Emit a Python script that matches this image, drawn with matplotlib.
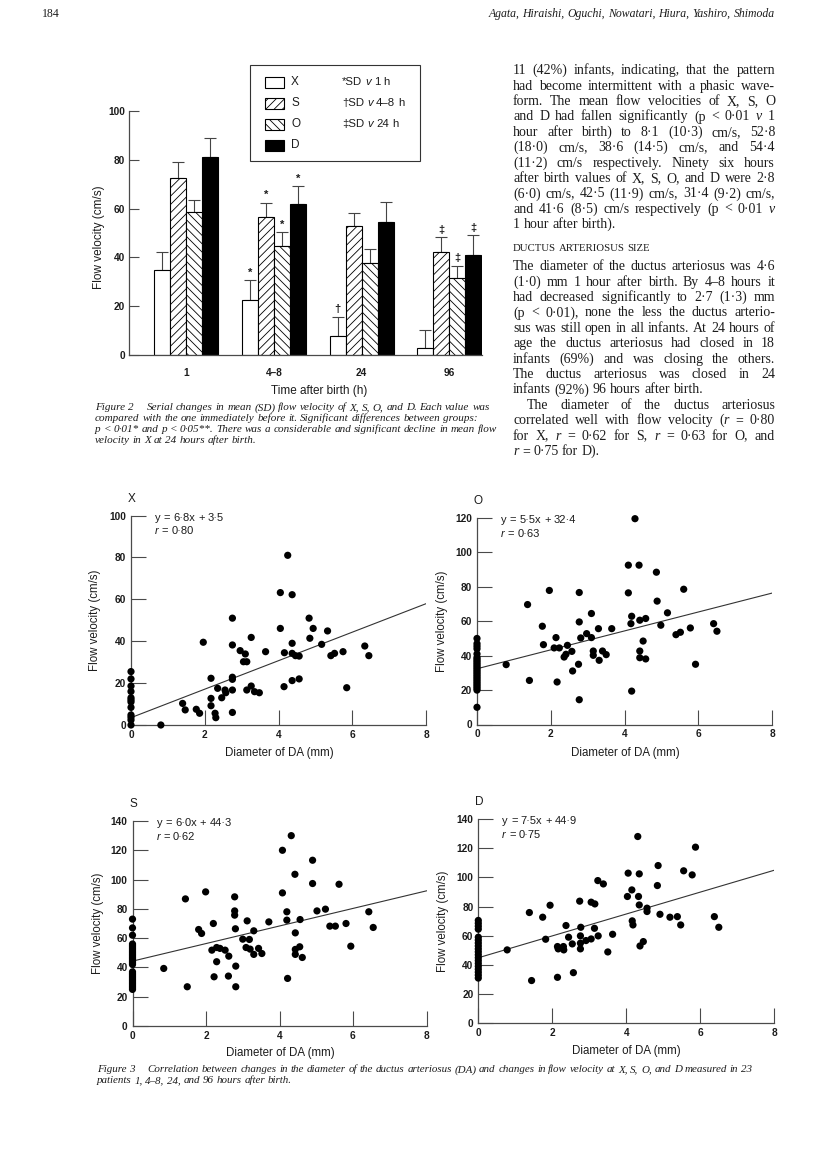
import matplotlib
matplotlib.use("Agg")
import matplotlib.pyplot as plt
import numpy as np
from matplotlib.patches import Rectangle

plt.rcParams['hatch.linewidth'] = 0.6
SANS = ['Liberation Sans', 'DejaVu Sans']
SERIF = ['Liberation Serif', 'DejaVu Serif']
plt.rcParams['font.family'] = SANS

W, H = 816, 1174
INK = '#1c1c1c'
AXC = '#4a4a4a'

# ---------------- Figure 2 data ----------------
times = ['1', '4–8', '24', '96']
series = ['X', 'S', 'O', 'D']
mean_X = [35.0, 22.7, 7.9, 3.0]
mean_S = [72.5, 56.5, 52.7, 42.2]
mean_O = [58.5, 44.5, 37.8, 31.4]
mean_D = [81.0, 61.8, 54.7, 41.0]
sd_X = [7.2, 7.9, 7.7, 7.2]
sd_S = [6.4, 5.9, 5.5, 6.0]
sd_O = [5.0, 5.8, 5.7, 5.2]
sd_D = [7.8, 7.4, 7.9, 8.0]
sig_time = [1, 1, 1, 1, 2, 3, 3, 3]
sig_series = [0, 1, 2, 3, 0, 1, 2, 3]
sig_symbol = ['*', '*', '*', '*', '†', '‡', '‡', '‡']
legend_notes = ['*SD _v_ 1 h', '†SD _v_ 4–8 h', '‡SD _v_ 24 h']

# ---------------- Figure 3 data ----------------
X_zero_y = [25.5, 22, 18.6, 16, 13, 12, 11, 8.4, 4.8, 3.7, 2.4, 0]
X_pts = [(0.81, 0.0), (1.40, 10.3), (1.47, 7.2), (1.77, 7.5), (1.86, 5.6), (1.96, 39.5),
         (2.17, 22.3), (2.17, 12.7), (2.17, 9.2), (2.28, 5.6), (2.30, 3.5), (2.35, 17.5),
         (2.46, 13.0), (2.55, 16.7), (2.57, 15.4), (2.75, 51.0), (2.75, 38.2), (2.75, 22.8),
         (2.75, 21.8), (2.75, 16.7), (2.75, 6.0), (2.96, 35.5), (3.05, 30.2), (3.10, 33.9),
         (3.14, 30.2), (3.14, 16.7), (3.26, 41.8), (3.26, 18.6), (3.35, 15.9), (3.48, 15.4),
         (3.65, 35.0), (4.05, 63.2), (4.05, 46.1), (4.15, 18.3), (4.16, 34.5), (4.25, 81.0),
         (4.37, 62.2), (4.37, 39.0), (4.37, 34.2), (4.37, 21.2), (4.46, 33.1), (4.56, 32.9),
         (4.56, 22.0), (4.83, 51.0), (4.85, 41.4), (4.94, 46.1), (5.17, 38.5), (5.33, 44.9),
         (5.42, 33.1), (5.52, 34.2), (5.75, 35.0), (5.85, 17.8), (6.34, 37.7), (6.45, 33.1)]

O_zero_y = [50, 47, 45.5, 44, 41, 39, 38, 37, 36, 35, 34, 33, 32, 31, 30, 29, 28, 27, 26,
            25, 24, 23, 22, 21, 20, 10]
O_pts = [(0.79, 34.8), (1.37, 69.7), (1.42, 25.6), (1.77, 57.1), (1.80, 46.4), (1.96, 77.9),
         (2.09, 44.5), (2.14, 50.5), (2.17, 24.7), (2.23, 44.5), (2.36, 39.2), (2.41, 40.8),
         (2.45, 46.0), (2.57, 42.5), (2.59, 31.1), (2.75, 35.0), (2.77, 76.7), (2.77, 59.6),
         (2.77, 14.4), (2.81, 50.3), (2.97, 52.8), (3.10, 64.5), (3.10, 50.5), (3.15, 42.7),
         (3.15, 40.2), (3.29, 55.7), (3.31, 37.3), (3.40, 42.7), (3.50, 40.6), (3.65, 55.7),
         (4.10, 92.6), (4.10, 76.5), (4.17, 58.6), (4.19, 62.9), (4.19, 19.4), (4.28, 119.6),
         (4.39, 92.6), (4.41, 60.6), (4.41, 42.7), (4.41, 38.8), (4.50, 48.5), (4.57, 61.6),
         (4.57, 38.1), (4.86, 88.5), (4.88, 71.7), (4.98, 57.7), (5.16, 64.9), (5.39, 52.2),
         (5.51, 53.6), (5.60, 78.6), (5.78, 56.1), (5.92, 35.0), (6.41, 58.6), (6.50, 54.2)]

S_zero_y = [73, 67, 62, 56, 55, 54, 53, 52, 51, 50, 49, 48, 47, 46, 45, 44, 43, 42, 37, 36,
            35, 34, 33, 32, 31, 30, 29, 28, 27, 26, 25]
S_pts = [(0.85, 39.3), (1.44, 86.8), (1.49, 26.8), (1.80, 65.9), (1.88, 63.2), (1.99, 91.6),
         (2.16, 51.8), (2.20, 70.0), (2.22, 33.6), (2.29, 53.6), (2.29, 43.9), (2.38, 53.0),
         (2.52, 51.8), (2.61, 34.1), (2.62, 47.7), (2.78, 88.2), (2.78, 78.6), (2.78, 75.7),
         (2.80, 66.4), (2.81, 40.9), (2.81, 26.8), (3.00, 59.3), (3.09, 53.6), (3.12, 71.8),
         (3.18, 59.1), (3.20, 52.5), (3.30, 48.9), (3.30, 65.0), (3.43, 53.0), (3.52, 49.5),
         (3.71, 71.1), (4.08, 120.0), (4.08, 90.9), (4.20, 78.0), (4.20, 72.3), (4.22, 32.5),
         (4.32, 130.0), (4.42, 103.6), (4.43, 63.6), (4.43, 52.3), (4.43, 48.9), (4.55, 54.1),
         (4.56, 72.7), (4.62, 46.8), (4.90, 113.2), (4.90, 97.3), (5.02, 78.6), (5.25, 79.8),
         (5.37, 68.2), (5.52, 68.2), (5.62, 96.8), (5.81, 70.0), (5.94, 54.5), (6.43, 78.0),
         (6.55, 67.3)]

D_zero_y = [70.5, 68.5, 66.5, 64.5, 59, 57, 55, 53, 51, 49, 47, 45, 43, 41, 39, 37, 35, 33, 31]
D_pts = [(0.78, 50.3), (1.38, 75.9), (1.44, 29.3), (1.74, 72.7), (1.82, 57.6), (1.94, 80.9),
         (2.14, 52.6), (2.14, 31.5), (2.16, 51.0), (2.30, 52.6), (2.31, 50.3), (2.37, 67.0),
         (2.44, 59.0), (2.54, 54.4), (2.57, 34.7), (2.74, 83.7), (2.77, 65.8), (2.76, 59.9),
         (2.76, 54.9), (2.76, 51.0), (2.91, 56.7), (3.05, 57.8), (3.05, 83.0), (3.15, 81.8),
         (3.14, 65.1), (3.24, 59.9), (3.23, 97.8), (3.38, 95.5), (3.50, 48.9), (3.63, 61.0),
         (4.03, 86.9), (4.05, 102.9), (4.15, 91.4), (4.16, 70.2), (4.18, 67.4), (4.31, 128.0),
         (4.33, 86.9), (4.35, 102.4), (4.35, 81.1), (4.37, 53.0), (4.46, 56.0), (4.56, 78.9),
         (4.56, 76.6), (4.84, 94.4), (4.86, 108.1), (4.91, 74.7), (5.18, 72.7), (5.38, 73.1),
         (5.47, 67.4), (5.55, 104.5), (5.78, 101.7), (5.87, 120.7), (6.38, 73.1), (6.50, 65.8)]

panel_names = ['X', 'O', 'S', 'D']
panel_ymax = [100, 120, 140, 140]
slopes = [6.8, 5.5, 6.0, 7.5]
intercepts = [3.5, 32.4, 44.3, 44.9]
r_values = [0.80, 0.63, 0.62, 0.75]

# ---------------- page text ----------------
header_left = '184'
header_right = 'Agata, Hiraishi, Oguchi, Nowatari, Hiura, Yashiro, Shimoda'
para1 = ["11 (42%) infants, indicating, that the pattern",
         "had become intermittent with a phasic wave-",
         "form. The mean flow velocities of X, S, O",
         "and D had fallen significantly (p < 0·01 _v_ 1",
         "hour after birth) to 8·1 (10·3) cm/s, 52·8",
         "(18·0) cm/s, 38·6 (14·5) cm/s, and 54·4",
         "(11·2) cm/s respectively. Ninety six hours",
         "after birth values of X, S, O, and D were 2·8",
         "(6·0) cm/s, 42·5 (11·9) cm/s, 31·4 (9·2) cm/s,",
         "and 41·6 (8·5) cm/s respectively (p < 0·01 _v_",
         "1 hour after birth)."]
heading = "DUCTUS ARTERIOSUS SIZE"
para2 = ["The diameter of the ductus arteriosus was 4·6",
         "(1·0) mm 1 hour after birth. By 4–8 hours it",
         "had decreased significantly to 2·7 (1·3) mm",
         "(p < 0·01), none the less the ductus arterio-",
         "sus was still open in all infants. At 24 hours of",
         "age the ductus arteriosus had closed in 18",
         "infants (69%) and was closing the others.",
         "The ductus arteriosus was closed in 24",
         "infants (92%) 96 hours after birth."]
para3 = ["The diameter of the ductus arteriosus",
         "correlated well with flow velocity (_r_ = 0·80",
         "for X, _r_ = 0·62 for S, _r_ = 0·63 for O, and",
         "_r_ = 0·75 for D)."]
cap2 = ["Serial changes in mean (SD) flow velocity of X, S, O, and D. Each value was",
        "compared with the one immediately before it. Significant differences between groups:",
        "p < 0·01* and p < 0·05**. There was a considerable and significant decline in mean flow",
        "velocity in X at 24 hours after birth."]
cap3 = ["Correlation between changes in the diameter of the ductus arteriosus (DA) and changes in flow velocity at X, S, O, and D measured in 23",
        "patients 1, 4–8, 24, and 96 hours after birth."]

# ---------------- figure ----------------
fig = plt.figure(figsize=(W / 100, H / 100), dpi=100)
fig.patch.set_facecolor('white')
ov = fig.add_axes([0, 0, 1, 1], zorder=5)
ov.set_xlim(0, W)
ov.set_ylim(H, 0)
ov.axis('off')
renderer = fig.canvas.get_renderer()


def add_ax(x0, x1, ytop, ybot):
    return fig.add_axes([x0 / W, 1 - ybot / H, (x1 - x0) / W, (ybot - ytop) / H])


def tw(t):
    return t.get_window_extent(renderer).width


_sp = {}


def space_w(size, family, style):
    key = (size, tuple(family), style)
    if key not in _sp:
        a = ov.text(0, 0, 'n n', fontsize=size, family=family, style=style)
        b = ov.text(0, 0, 'nn', fontsize=size, family=family, style=style)
        _sp[key] = tw(a) - tw(b)
        a.remove(); b.remove()
    return _sp[key]


def line(x, y, text, size, family, width=None, ha='left', italic=False,
         color=INK, indent=0, weight='normal'):
    """Draw one line of text; y is the visual middle of the line (pixels)."""
    yb = y + 0.30 * size * 100 / 72
    words = text.split(' ')
    drawn = []
    for w in words:
        arts = []
        cw = 0
        for i, p in enumerate(w.split('_')):
            if not p:
                continue
            it = (i % 2 == 1) != italic
            t = ov.text(0, yb, p, fontsize=size, family=family,
                        style='italic' if it else 'normal', va='baseline', ha='left',
                        color=color, weight=weight)
            arts.append((t, cw))
            cw += tw(t)
        drawn.append((arts, cw))
    base = 'italic' if italic else 'normal'
    sw = space_w(size, family, base)
    tot = sum(c for _, c in drawn)
    n = len(drawn)
    gap = (width - indent - tot) / (n - 1) if (width is not None and n > 1) else sw
    total = tot + gap * (n - 1)
    start = x + indent
    if ha == 'right':
        start = x - total
    elif ha == 'center':
        start = x - total / 2
    cx = start
    for arts, cw in drawn:
        for t, off in arts:
            t.set_x(cx + off)
        cx += cw + gap
    return total


def natural(text, size, family, italic=False):
    t = ov.text(0, 0, text.replace('_', ''), fontsize=size, family=family,
                style='italic' if italic else 'normal')
    w = tw(t)
    t.remove()
    return w


def style_ticks(ax):
    for lab in ax.get_xticklabels() + ax.get_yticklabels():
        lab.set_fontweight('bold')


# ---------------- header ----------------
line(42, 13, header_left, 8.5, SERIF)
line(775, 13, header_right, 8.5, SERIF, italic=True, ha='right')

# ---------------- Figure 2: bars ----------------
axb = add_ax(129, 482, 111, 355)
grp = np.arange(len(times))
bw = 16 / 87.7
offs = (np.arange(4) - 1.5) * bw
means = [mean_X, mean_S, mean_O, mean_D]
sds = [sd_X, sd_S, sd_O, sd_D]
fills = ['white', 'white', 'white', 'black']
hatches = [None, '////', '\\\\\\\\', None]
for i in range(4):
    axb.bar(grp + offs[i], means[i], width=bw, color=fills[i], hatch=hatches[i],
            edgecolor='black', linewidth=0.8, zorder=2)
    axb.errorbar(grp + offs[i], means[i], yerr=[np.zeros(4), sds[i]], fmt='none',
                 ecolor='#444', elinewidth=0.8, capsize=4.3, capthick=0.8, zorder=1)
for ti, si, sym in zip(sig_time, sig_series, sig_symbol):
    top = means[si][ti] + sds[si][ti]
    axb.text(grp[ti] + offs[si], top + 1.0, sym, ha='center', va='bottom', fontsize=8,
             color=INK, family=SANS, fontweight='bold')
axb.set_xlim((129 - 186.3) / 87.7, (482 - 186.3) / 87.7)
axb.set_ylim(0, 100)
axb.set_yticks([0, 20, 40, 60, 80, 100])
axb.set_xticks(grp)
axb.set_xticklabels(times)
for s in ['top', 'right']:
    axb.spines[s].set_visible(False)
for s in ['left', 'bottom']:
    axb.spines[s].set_color(AXC)
    axb.spines[s].set_linewidth(0.9)
axb.tick_params(axis='y', direction='in', length=7, width=0.8, color=AXC, labelsize=7.3,
                pad=3, labelcolor=INK)
axb.tick_params(axis='x', length=0, labelsize=7.3, pad=9, labelcolor=INK)
style_ticks(axb)
ov.text(99, 237, 'Flow velocity (cm/s)', rotation=90, fontsize=8.5, va='center',
        ha='center', color=INK)
ov.text(319, 391, 'Time after birth (h)', fontsize=8.5, va='center', ha='center', color=INK)

# legend box
ov.add_patch(Rectangle((250, 65), 170, 96, fill=False, edgecolor='#333', linewidth=0.8))
rows = [82, 103, 124, 145]
for i in range(4):
    ov.add_patch(Rectangle((265, rows[i] - 5.5), 19, 11, facecolor=fills[i],
                           hatch=hatches[i], edgecolor='black', linewidth=0.8))
    ov.text(291, rows[i], series[i], fontsize=8.5, va='center', ha='left', color=INK)
for i, note in enumerate(legend_notes):
    line(342, rows[i], note, 8.2, SANS)

# caption figure 2
cap_size2 = 8.0 * 396 / (natural('Figure 2', 8.0, SERIF, True) + 13
                         + natural(cap2[0], 8.0, SERIF, True))
fw = line(95, 407, 'Figure 2', cap_size2, SERIF, italic=True)
line(95 + fw + 13, 407, cap2[0], cap_size2, SERIF, italic=True)
for k in range(1, 4):
    line(95, 407 + 11 * k, cap2[k], cap_size2, SERIF, italic=True)

# ---------------- right column text ----------------
body = 9.6 * 258 / natural("sus was still open in all infants. At 24 hours of", 9.6, SERIF)
LS = 15.4
x0, colw = 513, 262
y = 70
for k, t in enumerate(para1):
    line(x0, y, t, body, SERIF, width=colw if k < len(para1) - 1 else None)
    y += LS
line(x0, 248, heading, body * 0.78, SERIF)
y = 266
for k, t in enumerate(para2):
    line(x0, y, t, body, SERIF, width=colw if k < len(para2) - 1 else None)
    y += LS
for k, t in enumerate(para3):
    line(x0, y, t, body, SERIF, width=colw if k < len(para3) - 1 else None,
         indent=14 if k == 0 else 0)
    y += LS

# ---------------- Figure 3: scatter panels ----------------
geoms = [(131, 426, 515.5, 725), (477, 772.3, 518, 724.5),
         (132.5, 426.5, 821, 1026), (478.3, 774.3, 819, 1023.3)]
pts = [X_pts, O_pts, S_pts, D_pts]
zeros = [X_zero_y, O_zero_y, S_zero_y, D_zero_y]
ylab_x = [95, 442, 98, 443]
xlab_y = [753, 753, 1053, 1051]
for i in range(4):
    gx0, gx1, gyt, gyb = geoms[i]
    ax = add_ax(gx0, gx1, gyt, gyb)
    p = np.array(pts[i])
    z = np.array(zeros[i], dtype=float)
    ax.scatter(np.zeros_like(z), z, s=27, c='black', edgecolors='none', zorder=3,
               clip_on=False)
    ax.scatter(p[:, 0], p[:, 1], s=27, c='black', edgecolors='none', zorder=3,
               clip_on=False)
    xx = np.array([0.0, 8.0])
    ax.plot(xx, slopes[i] * xx + intercepts[i], color='#333', lw=0.8, zorder=2)
    ax.set_xlim(0, 8)
    ax.set_ylim(0, panel_ymax[i])
    ax.set_xticks([0, 2, 4, 6, 8])
    ax.set_yticks(np.arange(0, panel_ymax[i] + 1, 20))
    for s in ['top', 'right']:
        ax.spines[s].set_visible(False)
    for s in ['left', 'bottom']:
        ax.spines[s].set_color(AXC)
        ax.spines[s].set_linewidth(0.9)
    ax.tick_params(direction='in', length=11, width=0.8, color=AXC, labelsize=7.3,
                   pad=3.5, labelcolor=INK)
    style_ticks(ax)
    ax.patch.set_alpha(0)
    ov.text(gx0 + 1, gyt - 17, panel_names[i], fontsize=8.5, ha='center', va='center',
            color=INK)
    eq = f"y = {slopes[i]:.1f}x + {intercepts[i]:.1f}".replace('.', '·')
    line(gx0 + 24, gyt + 2, eq, 8.0, SANS)
    line(gx0 + 24, gyt + 15.5, f"_r_ = {r_values[i]:.2f}".replace('.', '·'), 8.0, SANS)
    ov.text(ylab_x[i], (gyt + gyb) / 2, 'Flow velocity (cm/s)', rotation=90, fontsize=8.3,
            va='center', ha='center', color=INK)
    ov.text((gx0 + gx1) / 2 + 0.5, xlab_y[i], 'Diameter of DA (mm)', fontsize=8.3,
            va='center', ha='center', color=INK)

# caption figure 3
cap_size3 = 8.0 * 658 / (natural('Figure 3', 8.0, SERIF, True) + 13
                         + natural(cap3[0], 8.0, SERIF, True))
fw = line(97, 1069, 'Figure 3', cap_size3, SERIF, italic=True)
line(97 + fw + 13, 1069, cap3[0], cap_size3, SERIF, italic=True)
line(97, 1080, cap3[1], cap_size3, SERIF, italic=True)

fig.savefig('out.png', dpi=100)
